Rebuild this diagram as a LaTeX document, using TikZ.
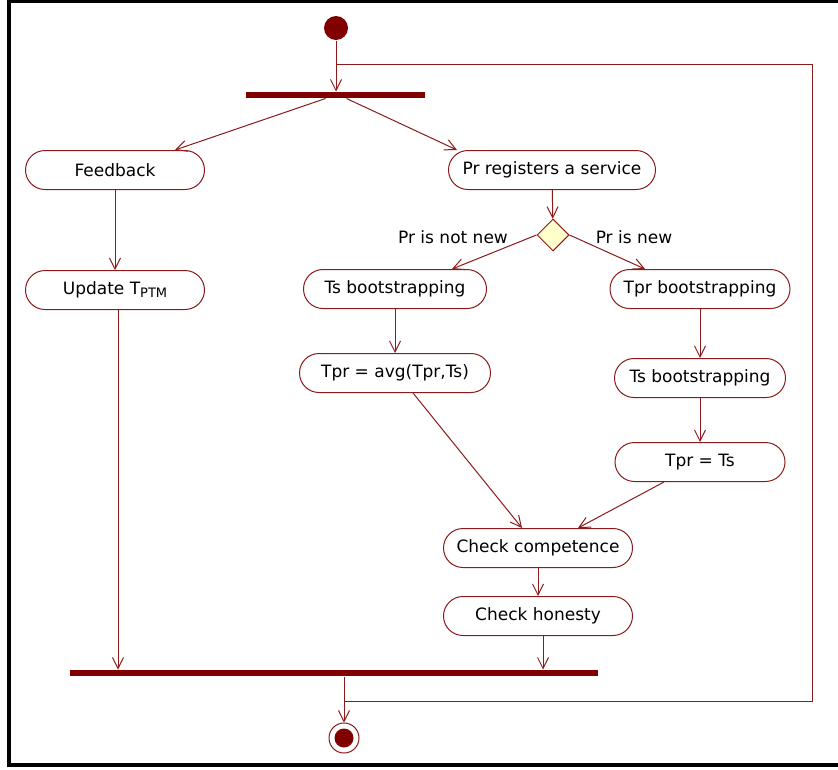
\documentclass[tikz,border=0pt]{standalone}
\usepackage{fontspec}
\setmainfont{DejaVu Sans}
\usetikzlibrary{positioning,arrows.meta,shapes.geometric}
\definecolor{barred}{HTML}{800000}
\definecolor{lnred}{HTML}{8B1A1A}
\definecolor{diafill}{HTML}{FFFFCC}

\begin{document}
\begin{tikzpicture}[x=1pt,y=-1pt,->,>={Straight Barb[length=11pt,width=11pt]},line width=1pt,lnred,
	act/.style={draw=lnred,rectangle,rounded corners=19.5pt,minimum height=39pt,inner sep=2pt,text=black,font=\fontsize{17}{19}\selectfont},
	bar/.style={fill=barred,draw=none,minimum height=6pt,inner sep=0pt},
	decide/.style={diamond,draw=lnred,fill=diafill,minimum width=32pt,minimum height=32pt,inner sep=0pt},
	lbl/.style={text=black,font=\fontsize{17}{19}\selectfont}]
		\useasboundingbox (0,0) rectangle (838,769);
		\draw[-,black,line width=3.4pt] (838,1.5) -- (9,1.5) -- (9,765) -- (838,765);
		
		\node[circle,fill=barred,minimum size=24pt,inner sep=0pt] (start) at (336,28) {};
		\node[bar,minimum width=179pt] (fork) at (335.5,95) {};
		\node[act,minimum width=179pt] (feedb) at (115,170) {Feedback};
		\node[act,minimum width=207pt] (prreg) at (552,170) {Pr registers a service};
		\node[decide] (dec) at (553,235) {};
		\node[lbl] (notnew) at (453,237) {Pr is not new};
		\node[lbl] (isnew) at (634,237) {Pr is new};
		\node[act,minimum width=179pt] (upd) at (115,290) {Update T\raisebox{-0.35ex}{\fontsize{13}{14}\selectfont PTM}};
		\node[act,minimum width=183pt] (tsb1) at (395,289) {Ts bootstrapping};
		\node[act,minimum width=180pt] (tprb) at (700,289) {Tpr bootstrapping};
		\node[act,minimum width=191pt] (avg) at (395,373) {Tpr = avg(Tpr,Ts)};
		\node[act,minimum width=171pt] (tsb2) at (700,378) {Ts bootstrapping};
		\node[act,minimum width=170pt] (tpreq) at (700,462) {Tpr = Ts};
		\node[act,minimum width=189pt] (comp) at (538,548) {Check competence};
		\node[act,minimum width=189pt] (hon) at (538,616) {Check honesty};
		\node[bar,minimum width=528pt] (join) at (334,673) {};
		\node[circle,draw=lnred,minimum size=30pt,inner sep=0pt] (stop) at (344,738) {};
		\fill[barred] (stop) circle (9.5pt);
		
		\coordinate (back) at (812,701);
		\coordinate (top) at (812,64);
		
		\draw (start) -- (start |- fork.north);
		\draw (stop |- join.south) -- (stop);
		\draw[-] (stop |- back) -- (back) -- (top) -- (start |- top);
		\path 	([xshift=-10pt]fork.south) edge ([xshift=60pt]feedb.north)
				([xshift=11pt]fork.south) edge ([xshift=-95pt]prreg.north)
				(feedb) edge (upd)
				([xshift=3pt]upd.south) edge ([xshift=3pt]upd.south |- join.north)
				(prreg) edge (dec)
				(dec.west) edge ([xshift=57pt]tsb1.north)
				(dec.east) edge ([xshift=-55pt]tprb.north)
				(tsb1) edge (avg)
				(tprb) edge (tsb2)
				(tsb2) edge (tpreq)
				([xshift=18pt]avg.south) edge ([xshift=-16pt]comp.north)
				([xshift=-36pt]tpreq.south) edge ([xshift=40pt]comp.north)
				(comp) edge (hon)
				([xshift=5pt]hon.south) edge ([xshift=5pt]hon.south |- join.north);
\end{tikzpicture}
\end{document}
